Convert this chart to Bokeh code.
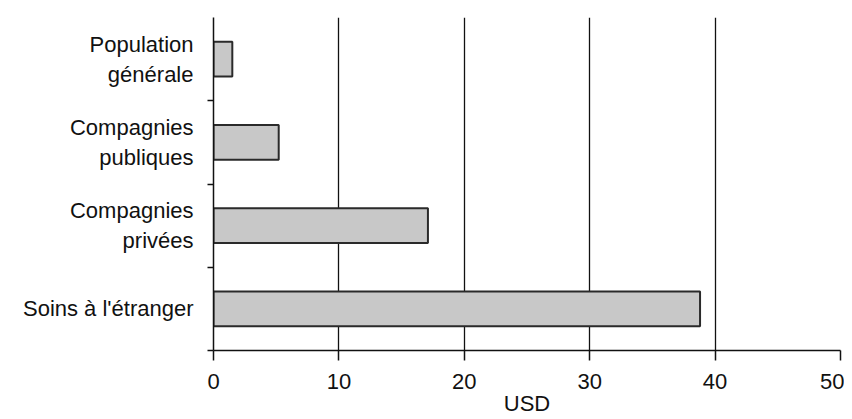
import numpy as np
from bokeh.plotting import figure
from bokeh.models import FixedTicker, Range1d, ColumnDataSource
from bokeh.embed import file_html
from bokeh.resources import INLINE

# Data (top to bottom in the chart)
categories = ["Population\ngénérale", "Compagnies\npubliques", "Compagnies\nprivées", "Soins à l'étranger"]
values = [1.5, 5.2, 17.1, 38.8]
x_ticks = [0, 10, 20, 30, 40, 50]
x_label = "USD"

n = len(categories)
ypos = [n - i - 0.5 for i in range(n)]
src = ColumnDataSource(dict(y=ypos, v=values, cat=categories))

p = figure(frame_width=627, frame_height=333, output_backend="svg", toolbar_location=None,
           x_range=Range1d(0, 50), y_range=Range1d(0, n),
           min_border_left=213, min_border_right=4, min_border_top=17, min_border_bottom=69)
p.outline_line_color = None
p.background_fill_color = "white"

p.hbar(y="y", right="v", left=0, height=0.42, source=src,
       fill_color="#c8c8c8", line_color="#2a2a2a", line_width=2)

font = "Liberation Sans"
fs = "22px"
# x axis
p.xaxis.ticker = FixedTicker(ticks=x_ticks)
p.xaxis.axis_line_color = "#111111"
p.xaxis.axis_line_width = 1.5
p.xaxis.major_tick_line_color = "#111111"
p.xaxis.major_tick_line_width = 1.5
p.xaxis.major_tick_out = 10
p.xaxis.major_tick_in = 0
p.xaxis.minor_tick_line_color = None
p.xaxis.major_label_text_font = font
p.xaxis.major_label_text_font_size = fs
p.xaxis.major_label_text_color = "#111111"
p.xaxis.major_label_standoff = 13
p.xaxis.axis_label = x_label
p.xaxis.axis_label_text_font = font
p.xaxis.axis_label_text_font_size = fs
p.xaxis.axis_label_text_font_style = "normal"
p.xaxis.axis_label_text_color = "#111111"
p.xaxis.axis_label_standoff = -1

# y axis
p.yaxis.ticker = FixedTicker(ticks=ypos, minor_ticks=list(range(0, n)))
p.yaxis.major_label_overrides = {y: c for y, c in zip(ypos, categories)}
p.yaxis.axis_line_color = "#111111"
p.yaxis.axis_line_width = 1.5
p.yaxis.major_tick_line_color = None
p.yaxis.minor_tick_line_color = "#111111"
p.yaxis.minor_tick_line_width = 1.5
p.yaxis.minor_tick_out = 6
p.yaxis.minor_tick_in = 0
p.yaxis.major_label_text_font = font
p.yaxis.major_label_text_font_size = fs
p.yaxis.major_label_text_line_height = 1.2
p.yaxis.major_label_text_color = "#111111"
p.yaxis.major_label_standoff = 14

# grid
p.ygrid.grid_line_color = None
p.xgrid.ticker = FixedTicker(ticks=x_ticks[1:])
p.xgrid.grid_line_color = "#111111"
p.xgrid.grid_line_width = 1.3

open("out.html", "w").write(file_html(p, INLINE))
